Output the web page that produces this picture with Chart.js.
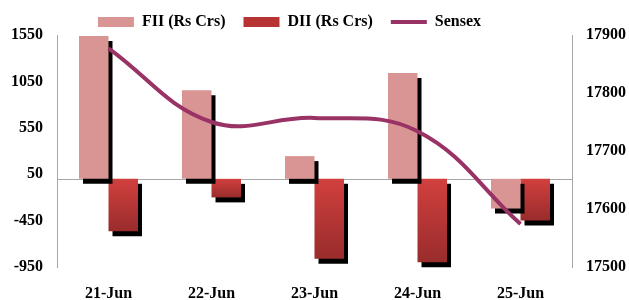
<!DOCTYPE html>
<html>
<head>
<meta charset="utf-8">
<script src="https://cdn.jsdelivr.net/npm/chart.js@4.4.0/dist/chart.umd.min.js"></script>
<style>
  html, body { margin: 0; padding: 0; background: #fff; }
  #wrap { width: 629px; height: 300px; position: relative; }
</style>
</head>
<body>
<div id="wrap"><canvas id="c" width="629" height="300"></canvas></div>
<script>
const categories = ['21-Jun', '22-Jun', '23-Jun', '24-Jun', '25-Jun'];
const fiiValues = [1540, 955, 245, 1140, -320];
const diiValues = [-565, -200, -860, -900, -450];
const sensexValues = [17877, 17750, 17757, 17734, 17574];
const leftTicks = [-950, -450, 50, 550, 1050, 1550];
const rightTicks = [17500, 17600, 17700, 17800, 17900];
const seriesNames = ['FII (Rs Crs)', 'DII (Rs Crs)', 'Sensex'];

const FONT = "'Liberation Serif', 'Times New Roman', serif";
const FONT_SIZE = 16;
const FII_COLOR = '#D99594';
const SENSEX_COLOR = '#993366';

function diiGradient(ctx) {
  const chart = ctx.chart;
  if (!chart.chartArea || ctx.raw === undefined) return '#B83535';
  const y = chart.scales.y;
  const y0 = y.getPixelForValue(0);
  const y1 = y.getPixelForValue(ctx.raw);
  if (Math.abs(y1 - y0) < 1) return '#C83B3A';
  const g = chart.ctx.createLinearGradient(0, y0, 0, y1);
  g.addColorStop(0, '#D1403E');
  g.addColorStop(1, '#992C2C');
  return g;
}

const shadowPlugin = {
  id: 'barShadow',
  beforeDatasetDraw(chart, args) {
    if (chart.data.datasets[args.index].type === 'bar') {
      const c = chart.ctx;
      c.save();
      c.shadowColor = '#000';
      c.shadowOffsetX = 4;
      c.shadowOffsetY = 5;
      c.shadowBlur = 0;
    }
  },
  afterDatasetDraw(chart, args) {
    if (chart.data.datasets[args.index].type === 'bar') {
      chart.ctx.restore();
    }
  }
};

const zeroLinePlugin = {
  id: 'zeroLine',
  beforeDatasetsDraw(chart) {
    const c = chart.ctx;
    const y = Math.round(chart.scales.y.getPixelForValue(0)) + 0.5;
    c.save();
    c.strokeStyle = '#A6A6A6';
    c.lineWidth = 1;
    c.beginPath();
    c.moveTo(chart.chartArea.left, y);
    c.lineTo(chart.chartArea.right, y);
    c.stroke();
    c.restore();
  }
};

const legendShiftPlugin = {
  id: 'legendShift',
  afterLayout(chart) {
    if (chart.legend) {
      chart.legend.left -= 25;
      chart.legend.right -= 25;
      chart.legend.top += 5;
      chart.legend.bottom += 5;
    }
  }
};

const plainTick = (v) => String(v);

new Chart(document.getElementById('c'), {
  data: {
    labels: categories,
    datasets: [
      {
        type: 'bar',
        label: seriesNames[0],
        data: fiiValues,
        backgroundColor: FII_COLOR,
        borderWidth: 0,
        yAxisID: 'y',
        order: 1,
        clip: 12,
        categoryPercentage: 0.573,
        barPercentage: 1.0
      },
      {
        type: 'bar',
        label: seriesNames[1],
        data: diiValues,
        backgroundColor: diiGradient,
        borderWidth: 0,
        yAxisID: 'y',
        order: 1,
        clip: 12,
        categoryPercentage: 0.573,
        barPercentage: 1.0
      },
      {
        type: 'line',
        label: seriesNames[2],
        data: sensexValues,
        borderColor: SENSEX_COLOR,
        backgroundColor: SENSEX_COLOR,
        borderWidth: 4,
        pointRadius: 0,
        tension: 0.4,
        fill: false,
        yAxisID: 'y1',
        order: 0,
        clip: 12
      }
    ]
  },
  options: {
    responsive: false,
    animation: false,
    devicePixelRatio: 1,
    layout: { padding: { top: -9, left: 0, right: 0, bottom: 0 } },
    plugins: {
      tooltip: { enabled: false },
      legend: {
        display: true,
        position: 'top',
        labels: {
          usePointStyle: true,
          pointStyleWidth: 36,
          boxHeight: 10,
          padding: 18,
          color: '#000',
          font: { family: FONT, size: FONT_SIZE, weight: 'bold' },
          generateLabels(chart) {
            return [
              { text: seriesNames[0], fillStyle: FII_COLOR, strokeStyle: FII_COLOR, lineWidth: 0, pointStyle: 'rect', datasetIndex: 0, hidden: false, fontColor: '#000' },
              { text: seriesNames[1], fillStyle: '#B83434', strokeStyle: '#B83434', lineWidth: 0, pointStyle: 'rect', datasetIndex: 1, hidden: false, fontColor: '#000' },
              { text: seriesNames[2], fillStyle: SENSEX_COLOR, strokeStyle: SENSEX_COLOR, lineWidth: 4, pointStyle: 'line', datasetIndex: 2, hidden: false, fontColor: '#000' }
            ];
          }
        }
      }
    },
    scales: {
      x: {
        type: 'category',
        grid: { display: false, drawTicks: false },
        border: { display: false },
        ticks: {
          color: '#000',
          padding: 17,
          font: { family: FONT, size: FONT_SIZE, weight: 'bold' },
          maxRotation: 0
        },
        afterFit(scale) { scale.height = 33; }
      },
      y: {
        type: 'linear',
        position: 'left',
        min: -950,
        max: 1550,
        grid: { display: true, color: 'transparent', drawTicks: false },
        border: { display: true, color: '#A6A6A6', width: 1 },
        ticks: {
          color: '#000',
          padding: 14,
          font: { family: FONT, size: FONT_SIZE, weight: 'bold' },
          callback: plainTick
        },
        afterBuildTicks(scale) { scale.ticks = leftTicks.map(v => ({ value: v })); },
        afterFit(scale) { scale.width = 57; }
      },
      y1: {
        type: 'linear',
        position: 'right',
        min: 17500,
        max: 17900,
        grid: { display: true, color: 'transparent', drawTicks: false, drawOnChartArea: false },
        border: { display: true, color: '#A6A6A6', width: 1 },
        ticks: {
          color: '#000',
          padding: 14,
          font: { family: FONT, size: FONT_SIZE, weight: 'bold' },
          callback: plainTick
        },
        afterBuildTicks(scale) { scale.ticks = rightTicks.map(v => ({ value: v })); },
        afterFit(scale) { scale.width = 57; }
      }
    }
  },
  plugins: [shadowPlugin, zeroLinePlugin, legendShiftPlugin]
});
</script>
</body>
</html>
